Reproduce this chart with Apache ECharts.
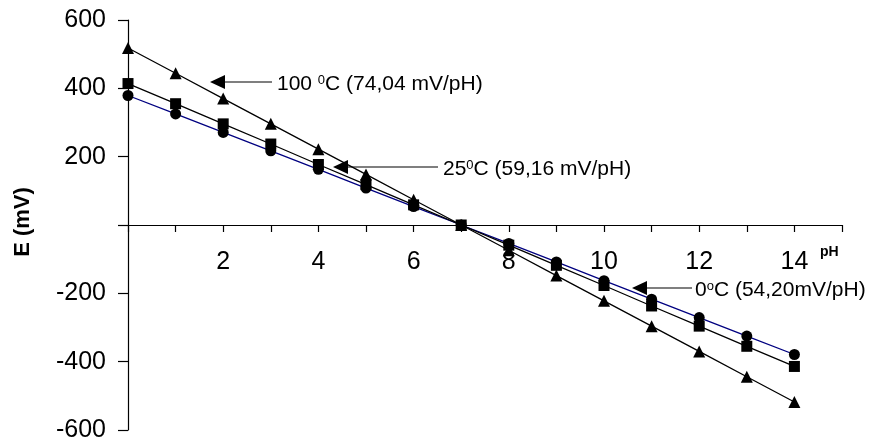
<!DOCTYPE html>
<html>
<head>
<meta charset="utf-8">
<script src="https://cdn.jsdelivr.net/npm/echarts@6/dist/echarts.min.js"></script>
<style>
  html, body { margin: 0; padding: 0; background: #fff; }
  #chart { width: 872px; height: 441px; }
</style>
</head>
<body>
<div id="chart"></div>
<script>
// valeurs
const phValues = [0, 1, 2, 3, 4, 5, 6, 7, 8, 9, 10, 11, 12, 13, 14];
const e100 = [518, 444, 370, 296, 222, 148, 74, 0, -74, -148, -222, -296, -370, -444, -518];
const e25 = [414, 355, 296, 237, 177, 118, 59, 0, -59, -118, -177, -237, -296, -355, -414];
const e0 = [379, 325, 271, 217, 163, 108, 54, 0, -54, -108, -163, -217, -271, -325, -379];
const xTickLabels = [2, 4, 6, 8, 10, 12, 14];
const yTickLabels = [600, 400, 200, -200, -400, -600];

const font = "'Liberation Sans', Arial, sans-serif";

function pairs(ys) {
  return phValues.map((p, i) => [p, ys[i]]);
}

// flèche horizontale pointant à gauche
function arrow(tipX, tipY, endX) {
  return [
    { type: 'line', shape: { x1: tipX + 12, y1: tipY, x2: endX, y2: tipY },
      style: { stroke: '#000', lineWidth: 1.2 } },
    { type: 'polygon', shape: { points: [[tipX, tipY], [tipX + 15, tipY - 7], [tipX + 15, tipY + 7]] },
      style: { fill: '#000' } }
  ];
}

function label(x, y, text) {
  return {
    type: 'text', x: x, y: y,
    style: {
      text: text, fill: '#000', font: '21px ' + font, verticalAlign: 'middle',
      rich: {
        n: { fontSize: 21, fontFamily: font, fill: '#000' },
        sup: { fontSize: 13, fontFamily: font, fill: '#000', verticalAlign: 'top' }
      }
    }
  };
}

let myChart = echarts.init(document.getElementById('chart'));
var option = {
  animation: false,
  grid: { left: 128, right: 30, top: 20, bottom: 11, outerBoundsMode: 'none' },
  xAxis: {
    type: 'value', min: 0, max: 15, interval: 1,
    axisLine: { onZero: true, lineStyle: { color: '#000', width: 1.2 } },
    axisTick: { length: 7, lineStyle: { color: '#000', width: 1.2 } },
    splitLine: { show: false },
    axisLabel: {
      // les étiquettes restent au bord de la grille : on les remonte sous l'axe du zéro
      margin: -180, color: '#000', fontSize: 25, fontFamily: font,
      formatter: v => xTickLabels.indexOf(v) >= 0 ? String(v) : ''
    }
  },
  yAxis: {
    type: 'value', min: -600, max: 600, interval: 200,
    axisLine: { show: true, onZero: false, lineStyle: { color: '#000', width: 1.2 } },
    axisTick: { show: true, length: 10, lineStyle: { color: '#000', width: 1.2 } },
    splitLine: { show: false },
    axisLabel: {
      margin: 22, color: '#000', fontSize: 25, fontFamily: font,
      formatter: v => yTickLabels.indexOf(v) >= 0 ? String(v) : ''
    }
  },
  series: [
    { name: '0 C', type: 'line', data: pairs(e0), symbol: 'circle', symbolSize: 11,
      lineStyle: { color: '#000080', width: 1.3 }, itemStyle: { color: '#000' } },
    { name: '25 C', type: 'line', data: pairs(e25), symbol: 'rect', symbolSize: 11,
      lineStyle: { color: '#000', width: 1.3 }, itemStyle: { color: '#000' } },
    { name: '100 C', type: 'line', data: pairs(e100), symbol: 'triangle', symbolSize: 12,
      lineStyle: { color: '#000', width: 1.3 }, itemStyle: { color: '#000' } }
  ],
  graphic: [
    ...arrow(210, 82, 272),
    label(277, 84, '{n|100 }{sup|0}{n|C (74,04 mV/pH)}'),
    ...arrow(333, 167, 438),
    label(443, 169, '{n|25}{sup|0}{n|C (59,16 mV/pH)}'),
    ...arrow(632, 288, 692),
    label(695, 290, '{n|0}{sup|o}{n|C (54,20mV/pH)}'),
    { type: 'text', x: 23, y: 222, rotation: Math.PI / 2,
      style: { text: 'E (mV)', fill: '#000', font: 'bold 22px ' + font, align: 'center', verticalAlign: 'middle' } },
    { type: 'text', x: 820, y: 252,
      style: { text: 'pH', fill: '#000', font: 'bold 14px ' + font, verticalAlign: 'middle' } }
  ]
};
myChart.setOption(option);
window.addEventListener('resize', function () { myChart.resize(); });
</script>
</body>
</html>
